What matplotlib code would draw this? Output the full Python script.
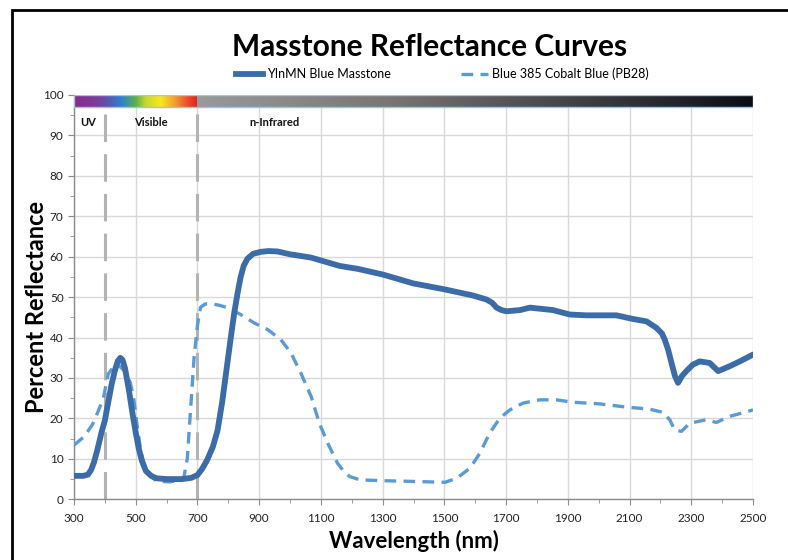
import numpy as np
import matplotlib
matplotlib.use("Agg")
import matplotlib.pyplot as plt
from matplotlib.colors import LinearSegmentedColormap
from matplotlib.patches import Rectangle
from matplotlib.lines import Line2D

plt.rcParams['font.family'] = ['Lato', 'DejaVu Sans']

title = "Masstone Reflectance Curves"
series_names = ["YInMN Blue Masstone", "Blue 385 Cobalt Blue (PB28)"]

yinmn_nm = [300, 330, 345, 355, 365, 375, 389, 400, 411, 422, 433, 442, 450, 457, 465, 478,
            490, 500, 510, 520, 533, 550, 567, 600, 650, 680, 700, 715, 732, 750, 765, 780,
            797, 808, 819, 830, 840, 850, 862, 880, 905, 930, 959, 1000,
            1067, 1162, 1219, 1300, 1399, 1502, 1593, 1637, 1655, 1669, 1685, 1701, 1745,
            1777, 1852, 1906, 1960, 2057, 2111, 2155, 2187, 2205, 2214, 2225, 2236, 2247,
            2257, 2270, 2284, 2305, 2327, 2345, 2360, 2387, 2424, 2457, 2500]
yinmn_refl = [5.8, 5.8, 6.1, 7.2, 9.2, 12, 16.5, 19.5, 24, 28.5, 32, 34.2, 35, 34.5, 32.5, 27,
              21, 16.5, 12.5, 9.5, 7, 5.8, 5.2, 5, 5, 5.3, 6, 7.5, 9.8, 13, 17, 24,
              33.7, 40, 46, 51, 55, 57.8, 59.5, 60.7, 61.2, 61.4, 61.3, 60.6,
              59.8, 57.7, 57, 55.6, 53.4, 51.9, 50.4, 49.4, 48.6, 47.4, 46.8, 46.5, 46.8,
              47.4, 46.8, 45.7, 45.5, 45.5, 44.6, 44, 42.4, 41, 39.5, 37, 33.7, 30.5,
              28.8, 30.5, 31.7, 33.3, 34.1, 33.9, 33.7, 31.7, 32.9, 34.1, 35.8]

cobalt_nm = [300, 333, 360, 378, 395, 411, 430, 444, 460, 470, 483, 494, 505, 516, 533, 567,
             611, 655, 667, 678, 689, 700, 710, 725, 743, 770, 797, 840, 884, 927, 970, 1003,
             1035, 1068, 1095, 1122, 1154, 1175, 1194, 1227, 1302, 1410, 1502, 1540, 1583,
             1615, 1647, 1680, 1712, 1755, 1809, 1863, 1917, 2003, 2090, 2165, 2208, 2230,
             2246, 2268, 2295, 2349, 2381, 2424, 2500]
cobalt_refl = [13.4, 15.5, 18.5, 21.7, 25, 31, 33, 33.2, 32, 31, 28.7, 24.6, 18, 12.2, 6.8, 4.5,
               4.3, 5, 10, 22.5, 35, 43, 47.5, 48.3, 48.4, 48, 47.4, 45.7, 43.6, 42, 39.5, 36.2,
               31.2, 25.5, 18.8, 13.9, 8.9, 6.8, 5.6, 4.8, 4.6, 4.4, 4.2, 5.2, 7.7,
               11.4, 16.4, 20.1, 22.1, 23.8, 24.6, 24.6, 24, 23.6, 22.8, 22.3, 21.5, 19.7,
               17.2, 16.8, 18.8, 19.7, 19, 20.5, 22.1]

region_labels = ["UV", "Visible", "n-Infrared"]
region_label_x = [345, 548, 950]
region_bounds = [400, 700]

x_ticks = list(range(300, 2501, 200))
y_ticks = list(range(0, 101, 10))

fig = plt.figure(figsize=(7.88, 5.6), dpi=100)
ax = fig.add_axes([0.0939, 0.1084, 0.8617, 0.722])

solid_col = '#3b6ca7'
dash_col = '#5b9bd5'

ax.set_xlim(300, 2500)
ax.set_ylim(0, 100)
ax.set_xticks(x_ticks)
ax.set_xticks(list(range(400, 2500, 200)), minor=True)
ax.set_yticks(y_ticks)
ax.set_yticks(list(range(5, 100, 10)), minor=True)
ax.grid(True, which='major', color='#d9d9d9', lw=1.0)
ax.set_axisbelow(True)
for s in ['top', 'right']:
    ax.spines[s].set_visible(False)
for s in ['left', 'bottom']:
    ax.spines[s].set_color('#8c8c8c')
    ax.spines[s].set_linewidth(1.0)
ax.tick_params(axis='both', which='major', color='#8c8c8c', direction='out', length=4,
               labelsize=8.5, labelcolor='#222222')
ax.tick_params(axis='both', which='minor', color='#8c8c8c', direction='out', length=3)
ax.tick_params(axis='x', which='major', pad=6)

# spectrum bar
spec = LinearSegmentedColormap.from_list('spec', [
    (0.0, '#8a2a8a'), (0.2, '#7a3f9e'), (0.3, '#4f5fb5'), (0.38, '#2f80cf'),
    (0.5, '#5db04a'), (0.58, '#c8d830'), (0.7, '#f7e81e'), (0.82, '#f29a2e'),
    (0.92, '#ee4b2b'), (1.0, '#e01f1f')])
nir = LinearSegmentedColormap.from_list('nir', [
    (0.0, '#9a9a9a'), (0.35, '#7a7474'), (0.7, '#3f3f42'), (1.0, '#0c0c14')])
grad = np.linspace(0, 1, 256).reshape(1, -1)
ax.imshow(grad, cmap=spec, extent=[300, 700, 97, 100], aspect='auto', zorder=3)
ax.imshow(grad, cmap=nir, extent=[700, 2500, 97, 100], aspect='auto', zorder=3)
ax.add_patch(Rectangle((300, 97), 2200, 3, fill=False, edgecolor='#9dc3e6', lw=1.0, zorder=4))

for b in region_bounds:
    ax.plot([b, b], [0, 97], color='#b3b3b3', lw=2.2, dashes=(9, 4), zorder=2)

for lbl, xx in zip(region_labels, region_label_x):
    ax.text(xx, 93.3, lbl, ha='center', va='center', fontsize=8, fontweight='bold',
            color='#111111', zorder=5)

ax.plot(cobalt_nm, cobalt_refl, color=dash_col, lw=2.4, dashes=(3.5, 2.2), zorder=5)
ax.plot(yinmn_nm, yinmn_refl, color=solid_col, lw=4.2, solid_capstyle='round',
        solid_joinstyle='round', zorder=6)

ax.set_xlabel("Wavelength (nm)", fontsize=16, fontweight='bold', labelpad=4)
ax.set_ylabel("Percent Reflectance", fontsize=17, fontweight='bold')
ax.yaxis.set_label_coords(-0.038, 0.475)

fig.text(0.545, 0.916, title, ha='center', va='center', fontsize=21.5, fontweight='bold')

handles = [Line2D([], [], color=solid_col, lw=4.2),
           Line2D([], [], color=dash_col, lw=2.4, dashes=(3.5, 2.2))]
fig.legend(handles, series_names, loc='center', bbox_to_anchor=(0.561, 0.868), ncol=2,
           frameon=False, fontsize=9, handlelength=2.2, handletextpad=0.3,
           columnspacing=5.6)

fig.add_artist(Rectangle((12 / 788, -0.1), 1.2, (560 - 10) / 560 + 0.1, fill=False,
                         edgecolor='black', lw=2.0, transform=fig.transFigure))

fig.savefig("out.png", dpi=100)
